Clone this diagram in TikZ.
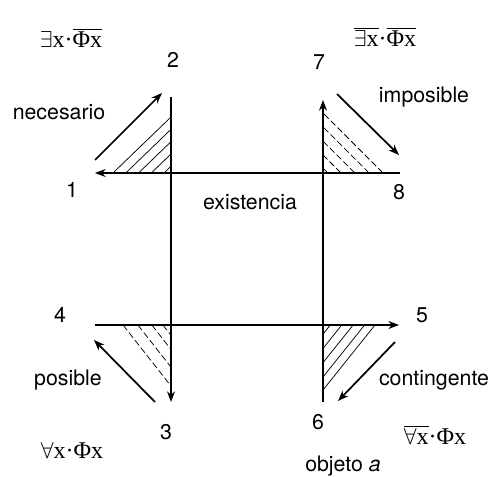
\documentclass[tikz,border=0pt]{standalone}
\usepackage{fontspec}
\setmainfont{TeX Gyre Heros}
\newfontfamily\serifx{Liberation Serif}
\usetikzlibrary{arrows.meta,positioning,calc}
\newcommand{\fx}[1]{\hbox{\serifx #1}}
\tikzset{
  axis/.style={draw=black,line width=1.1pt,-{Stealth[length=2.8mm,width=2.1mm,inset=0.9mm]}},
  mode/.style={draw=black,line width=1.3pt,-{Stealth[length=2.8mm,width=2.1mm,inset=0.9mm]}},
  hatch/.style={draw=black,line width=0.55pt},
  dhatch/.style={hatch,dash pattern=on 5pt off 2.2pt},
  num/.style={inner sep=0pt,font=\fontsize{16}{19}\selectfont},
  word/.style={inner sep=0pt,font=\fontsize{16}{19}\selectfont},
  formula/.style={inner sep=0pt,font=\fontsize{18}{21}\selectfont}
}
\begin{document}
\begin{tikzpicture}[x=0.75pt,y=-0.75pt]
  \useasboundingbox (0,0) rectangle (488,477);
  % crossing points
  \coordinate (c12) at (171,173);
  \coordinate (c78) at (323,173);
  \coordinate (c43) at (171,325);
  \coordinate (c56) at (323,325);
  % axis ends
  \coordinate (e1) at (95,173);
  \coordinate (e8) at (400,173);
  \coordinate (e2) at (171,97);
  \coordinate (e3) at (171,402);
  \coordinate (e7) at (323,100);
  \coordinate (e6) at (323,402);
  \coordinate (e4) at (95,325);
  \coordinate (e5) at (399,325);
  % hatched corners
  \coordinate (tla) at (113,173); \coordinate (tlb) at (171,117);
  \coordinate (tra) at (383,173); \coordinate (trb) at (323,113);
  \coordinate (bla) at (123,325); \coordinate (blb) at (171,386);
  \coordinate (bra) at (375,325); \coordinate (brb) at (323,390);
  \foreach \t in {0.12,0.34,0.56,0.78,1}
    \draw[hatch] ($(c12)!\t!(tla)$) -- ($(c12)!\t!(tlb)$);
  \foreach \t in {0.08,0.3,0.53,0.77,1}
    \draw[dhatch] ($(c78)!\t!(tra)$) -- ($(c78)!\t!(trb)$);
  \foreach \t in {0.17,0.4,0.69,1}
    \draw[dhatch] ($(c43)!\t!(bla)$) -- ($(c43)!\t!(blb)$);
  \foreach \t in {0.14,0.36,0.58,0.8,1}
    \draw[hatch] ($(c56)!\t!(bra)$) -- ($(c56)!\t!(brb)$);
  % axes
  \draw[axis] (e8) -- (e1);
  \draw[axis] (e2) -- (e3);
  \draw[axis] (e6) -- (e7);
  \draw[axis] (e4) -- (e5);
  % modal arrows
  \coordinate (nec0) at (95,160);  \coordinate (nec1) at (162,93);
  \coordinate (imp0) at (337,94);  \coordinate (imp1) at (399,155);
  \coordinate (pos0) at (155,402); \coordinate (pos1) at (94,340);
  \coordinate (con0) at (395,342); \coordinate (con1) at (338,401);
  \draw[mode] (nec0) -- (nec1);
  \draw[mode] (imp0) -- (imp1);
  \draw[mode] (pos0) -- (pos1);
  \draw[mode] (con0) -- (con1);
  % numbers
  \node[num] (n1) at (72,190) {1};
  \node[num] (n2) at (173,60) {2};
  \node[num] (n3) at (166,432) {3};
  \node[num] (n4) at (60,315) {4};
  \node[num] (n5) at (422,315) {5};
  \node[num] (n6) at (318,422) {6};
  \node[num] (n7) at (319,62) {7};
  \node[num] (n8) at (399,192) {8};
  % words
  \node[word] (necesario) at (59,112) {necesario};
  \node[word] (imposible) at (424,97) {imposible};
  \node[word] (posible) at (68,380) {posible};
  \node[word] (contingente) at (434,380) {contingente};
  \node[word] (existencia) at (250,202) {existencia};
  \node[word] (objeto) at (343,466) {objeto \textit{a}};
  % formulas
  \node[formula] (f1) at (71,38) {$\exists\fx{x}\fx{·}\overline{\fx{Φx}}$};
  \node[formula] (f2) at (385,37) {$\overline{\exists\fx{x}}\fx{·}\overline{\fx{Φx}}$};
  \node[formula] (f3) at (72,450) {$\forall\fx{x}\fx{·}\fx{Φx}$};
  \node[formula] (f4) at (435,435) {$\overline{\forall\fx{x}}\fx{·}\fx{Φx}$};
\end{tikzpicture}
\end{document}
